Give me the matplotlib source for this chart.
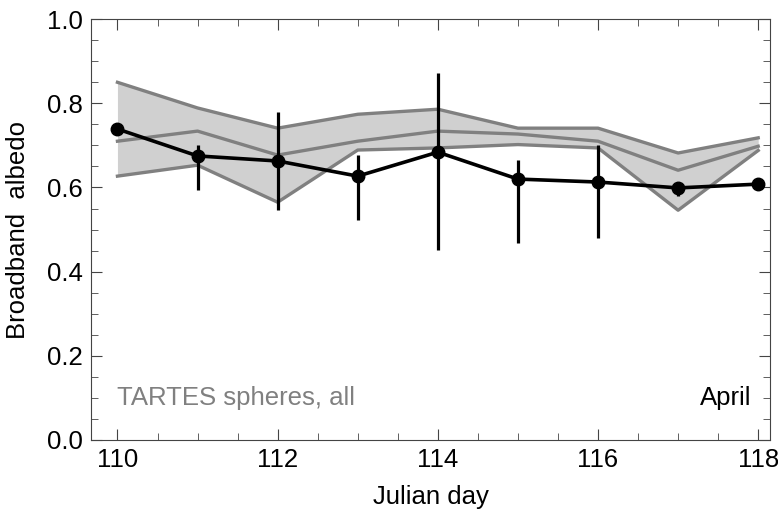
import matplotlib.pyplot as plt
from matplotlib.ticker import MultipleLocator

plt.rcParams['font.family'] = ['Liberation Sans', 'DejaVu Sans']

days = [110, 111, 112, 113, 114, 115, 116, 117, 118]
obs = [0.739, 0.675, 0.663, 0.627, 0.684, 0.620, 0.613, 0.599, 0.608]
obs_hi = [0.739, 0.700, 0.779, 0.677, 0.872, 0.665, 0.700, 0.605, 0.608]
obs_lo = [0.739, 0.594, 0.546, 0.523, 0.451, 0.468, 0.480, 0.580, 0.608]
tartes_hi = [0.850, 0.789, 0.741, 0.774, 0.786, 0.741, 0.741, 0.682, 0.718]
tartes_mid = [0.710, 0.734, 0.677, 0.710, 0.734, 0.727, 0.710, 0.641, 0.698]
tartes_lo = [0.627, 0.653, 0.565, 0.689, 0.694, 0.702, 0.694, 0.546, 0.688]

fs = 18.5

fig = plt.figure(figsize=(7.78, 5.18), dpi=100)
ax = fig.add_axes([0.117, 0.1506, 0.873, 0.8124])

ax.fill_between(days, tartes_lo, tartes_hi, color='#d0d0d0', lw=0)
for s in (tartes_hi, tartes_mid, tartes_lo):
    ax.plot(days, s, color='#808080', lw=2.4)

yerr = [[o - l for o, l in zip(obs, obs_lo)], [h - o for o, h in zip(obs, obs_hi)]]
ax.errorbar(days, obs, yerr=yerr, color='black', lw=2.6, elinewidth=2.3,
            marker='o', ms=9, capsize=0)

ax.set_xlim(109.67, 118.15)
ax.set_ylim(0, 1.0)
ax.xaxis.set_major_locator(MultipleLocator(2))
ax.xaxis.set_minor_locator(MultipleLocator(0.5))
ax.yaxis.set_major_locator(MultipleLocator(0.2))
ax.yaxis.set_minor_locator(MultipleLocator(0.05))
ax.tick_params(which='both', direction='in', top=True, right=True,
               color='#444444', labelsize=fs, pad=6)
ax.tick_params(which='major', length=8)
ax.tick_params(which='minor', length=5)
ax.yaxis.set_major_formatter(plt.FuncFormatter(lambda v, p: f'{v:.1f}'))
for sp in ax.spines.values():
    sp.set_color('#444444')

ax.set_xlabel('Julian day', fontsize=fs, labelpad=9)
ax.set_ylabel('Broadband  albedo', fontsize=fs, labelpad=12)

ax.text(110.0, 0.10, 'TARTES spheres, all', color='#808080', fontsize=fs,
        va='center', ha='left')
ax.text(117.92, 0.10, 'April', color='black', fontsize=fs,
        va='center', ha='right')

fig.savefig('out.png', dpi=100)
